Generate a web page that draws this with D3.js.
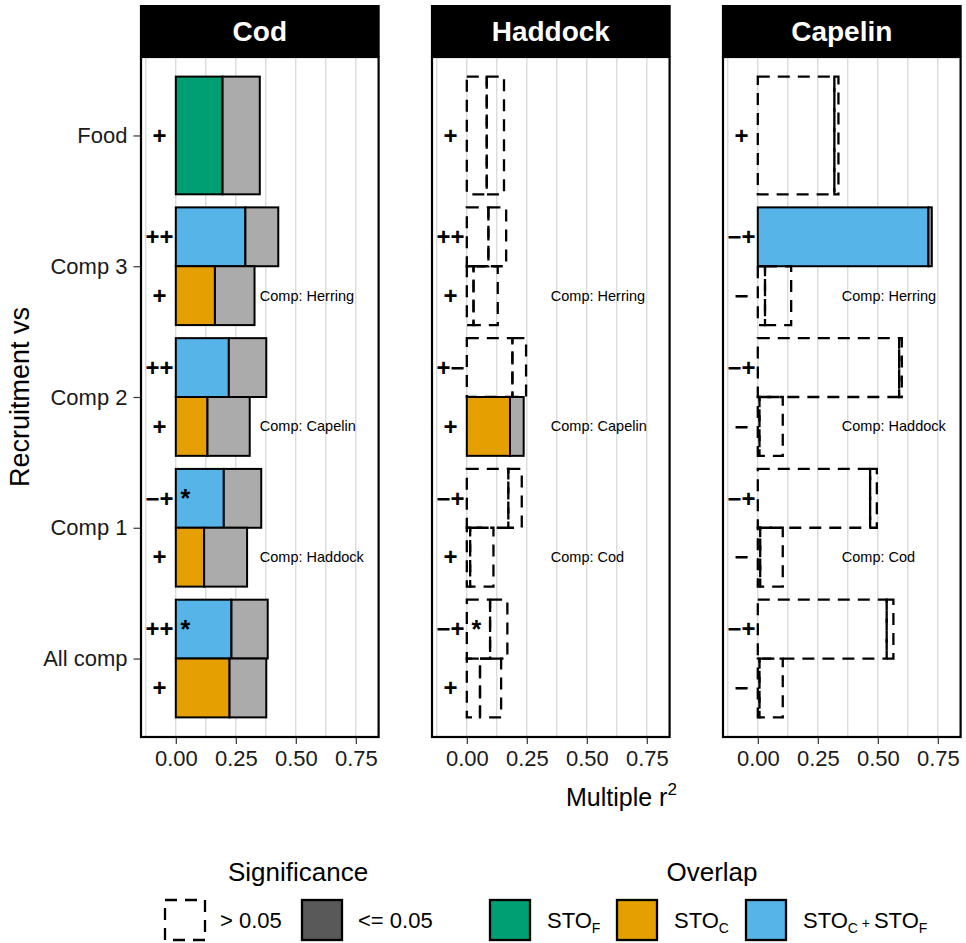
<!DOCTYPE html>
<html>
<head>
<meta charset="utf-8">
<script src="https://cdn.jsdelivr.net/npm/d3@7"></script>
<style>
  body { margin: 0; background: #fff; }
  svg { font-family: "Liberation Sans", Arial, sans-serif; }
</style>
</head>
<body>
<svg id="chart" width="966" height="943"></svg>
<script>
// facets, categories and ticks
var species = ["Cod", "Haddock", "Capelin"];
var categories = ["Food", "Comp 3", "Comp 2", "Comp 1", "All comp"];
var xTicks = [0, 0.25, 0.5, 0.75];
var gridTicks = [-0.125, 0, 0.125, 0.25, 0.375, 0.5, 0.625, 0.75];

// one row per bar: category, slot in the dodge, overlap group
var rowCategory = ["Food", "Comp 3", "Comp 3", "Comp 2", "Comp 2", "Comp 1", "Comp 1", "All comp", "All comp"];
var rowSlot = ["full", "top", "bottom", "top", "bottom", "top", "bottom", "top", "bottom"];
var rowOverlap = ["STO_F", "STO_C+F", "STO_C", "STO_C+F", "STO_C", "STO_C+F", "STO_C", "STO_C+F", "STO_C"];

// Cod
var codOverlapR2 = [0.195, 0.29, 0.163, 0.221, 0.132, 0.2, 0.118, 0.232, 0.224];
var codTotalR2 = [0.35, 0.427, 0.328, 0.377, 0.308, 0.356, 0.297, 0.383, 0.377];
var codSignif = [1, 1, 1, 1, 1, 1, 1, 1, 1];
var codSigns = ["+", "++", "+", "++", "+", "\u2212+", "+", "++", "+"];
var codStars = [0, 0, 0, 0, 0, 1, 0, 1, 0];
var codComps = ["Comp: Herring", "Comp: Capelin", "Comp: Haddock"];

// Haddock
var haddockOverlapR2 = [0.083, 0.09, 0.028, 0.19, 0.18, 0.173, 0.014, 0.097, 0.055];
var haddockTotalR2 = [0.155, 0.164, 0.129, 0.247, 0.237, 0.229, 0.111, 0.169, 0.143];
var haddockSignif = [0, 0, 0, 0, 1, 0, 0, 0, 0];
var haddockSigns = ["+", "++", "+", "+\u2212", "+", "\u2212+", "+", "\u2212+", "+"];
var haddockStars = [0, 0, 0, 0, 0, 0, 0, 1, 0];
var haddockComps = ["Comp: Herring", "Comp: Capelin", "Comp: Cod"];

// Capelin
var capelinOverlapR2 = [0.319, 0.711, 0.03, 0.589, 0.007, 0.468, 0.01, 0.537, 0.007];
var capelinTotalR2 = [0.336, 0.725, 0.139, 0.6, 0.104, 0.496, 0.104, 0.565, 0.104];
var capelinSignif = [0, 1, 0, 0, 0, 0, 0, 0, 0];
var capelinSigns = ["+", "\u2212+", "\u2212", "\u2212+", "\u2212", "\u2212+", "\u2212", "\u2212+", "\u2212"];
var capelinStars = [0, 0, 0, 0, 0, 0, 0, 0, 0];
var capelinComps = ["Comp: Herring", "Comp: Haddock", "Comp: Cod"];

var compCategories = ["Comp 3", "Comp 2", "Comp 1"];

var overlapColors = { "STO_F": "#009E73", "STO_C": "#E69F00", "STO_C+F": "#56B4E9" };
var restColor = "#ababab";

var panels = [
  { name: "Cod", overlap: codOverlapR2, total: codTotalR2, signif: codSignif, signs: codSigns, stars: codStars, comps: codComps },
  { name: "Haddock", overlap: haddockOverlapR2, total: haddockTotalR2, signif: haddockSignif, signs: haddockSigns, stars: haddockStars, comps: haddockComps },
  { name: "Capelin", overlap: capelinOverlapR2, total: capelinTotalR2, signif: capelinSignif, signs: capelinSigns, stars: capelinStars, comps: capelinComps }
];

var svg = d3.select("#chart");
var panelLefts = [141, 432, 723];
var panelW = 237.6;
var panelTop = 57, panelBottom = 737, stripTop = 5;
var dash = "12,8";

var y = d3.scalePoint().domain(categories).range([panelTop, panelBottom]).padding(0.6);
var step = y.step();

panels.forEach(function(p, pi) {
  var left = panelLefts[pi];
  var x = d3.scaleLinear().domain([-0.145, 0.845]).range([left, left + panelW]);
  var g = svg.append("g");

  g.append("rect").attr("x", left).attr("y", panelTop).attr("width", panelW)
    .attr("height", panelBottom - panelTop).attr("fill", "#fff");

  // vertical grid
  g.selectAll(".grid").data(gridTicks).enter().append("line")
    .attr("x1", function(d) { return x(d); }).attr("x2", function(d) { return x(d); })
    .attr("y1", panelTop).attr("y2", panelBottom)
    .attr("stroke", "#d0d0d0").attr("stroke-width", 1.1);

  // bars: overlap segment then the rest
  var rows = rowCategory.map(function(c, i) {
    var c0 = y(c);
    var y0, y1;
    if (rowSlot[i] === "full") { y0 = c0 - 0.45 * step; y1 = c0 + 0.45 * step; }
    else if (rowSlot[i] === "top") { y0 = c0 - 0.45 * step; y1 = c0; }
    else { y0 = c0; y1 = c0 + 0.45 * step; }
    return { i: i, y0: y0, y1: y1, ov: p.overlap[i], tot: p.total[i], sig: p.signif[i],
             group: rowOverlap[i], sign: p.signs[i], star: p.stars[i] };
  });

  rows.forEach(function(r) {
    var segs = [
      { a: 0, b: r.ov, fill: overlapColors[r.group] },
      { a: r.ov, b: r.tot, fill: restColor }
    ];
    segs.forEach(function(s) {
      g.append("rect")
        .attr("x", x(s.a)).attr("y", r.y0)
        .attr("width", x(s.b) - x(s.a)).attr("height", r.y1 - r.y0)
        .attr("fill", r.sig ? s.fill : "none")
        .attr("stroke", "#000").attr("stroke-width", r.sig ? 2 : 2.3)
        .attr("stroke-dasharray", r.sig ? null : dash);
    });
  });

  // sign text and stars
  rows.forEach(function(r) {
    var cy = (r.y0 + r.y1) / 2;
    g.append("text").attr("x", x(-0.068)).attr("y", cy).attr("dy", "0.34em")
      .attr("text-anchor", "middle").attr("font-size", 24).attr("font-weight", "bold").text(r.sign);
    if (r.star) {
      g.append("text").attr("x", x(0.04)).attr("y", cy).attr("dy", "0.36em")
        .attr("text-anchor", "middle").attr("font-size", 25).attr("font-weight", "bold").text("*");
    }
  });

  // comparison labels at the lower bar
  compCategories.forEach(function(c, k) {
    g.append("text").attr("x", x(0.35)).attr("y", y(c) + 0.225 * step).attr("dy", "0.35em")
      .attr("font-size", 14.5).text(p.comps[k]);
  });

  // panel border
  g.append("rect").attr("x", left).attr("y", panelTop).attr("width", panelW)
    .attr("height", panelBottom - panelTop).attr("fill", "none")
    .attr("stroke", "#000").attr("stroke-width", 2.2);

  // strip
  g.append("rect").attr("x", left - 1.1).attr("y", stripTop).attr("width", panelW + 2.2)
    .attr("height", panelTop - stripTop).attr("fill", "#000");
  g.append("text").attr("x", left + panelW / 2).attr("y", 41)
    .attr("text-anchor", "middle").attr("font-size", 28).attr("font-weight", "bold")
    .attr("fill", "#fff").text(p.name);

  // x axis
  var xAxis = d3.axisBottom(x).tickValues(xTicks).tickFormat(d3.format(".2f"))
    .tickSize(6).tickPadding(6);
  var ax = g.append("g").attr("transform", "translate(0," + (panelBottom + 1) + ")").call(xAxis);
  ax.select(".domain").remove();
  ax.selectAll("line").attr("stroke", "#333").attr("stroke-width", 1.2);
  ax.selectAll("text").attr("font-size", 22).attr("fill", "#1a1a1a")
    .attr("font-family", "Liberation Sans, Arial, sans-serif");

  // y axis only on first panel
  if (pi === 0) {
    var yAxis = d3.axisLeft(y).tickSize(7).tickPadding(6);
    var ay = g.append("g").attr("transform", "translate(" + (left - 0.5) + ",0)").call(yAxis);
    ay.select(".domain").remove();
    ay.selectAll("line").attr("stroke", "#333").attr("stroke-width", 1.2);
    ay.selectAll("text").attr("font-size", 22).attr("fill", "#1a1a1a")
      .attr("font-family", "Liberation Sans, Arial, sans-serif");
  }
});

// axis titles
svg.append("text").attr("transform", "translate(29,397) rotate(-90)")
  .attr("text-anchor", "middle").attr("font-size", 27).text("Recruitment vs");

var xt = svg.append("text").attr("x", 566).attr("y", 806).attr("font-size", 25);
xt.append("tspan").text("Multiple r");
xt.append("tspan").attr("font-size", 17).attr("dy", -11).text("2");

// legends
function sub(t, main, s) {
  t.append("tspan").text(main);
  t.append("tspan").attr("font-size", 14).attr("dy", 5).text(s);
}

var leg = svg.append("g");
leg.append("text").attr("x", 298).attr("y", 881).attr("text-anchor", "middle")
  .attr("font-size", 26).text("Significance");
leg.append("text").attr("x", 712).attr("y", 881).attr("text-anchor", "middle")
  .attr("font-size", 26).text("Overlap");

var keyY = 900, keyS = 40;
var sigKeys = [
  { x: 165, fill: "none", dash: dash, label: "> 0.05", lx: 220 },
  { x: 302, fill: "#595959", dash: null, label: "<= 0.05", lx: 358 }
];
sigKeys.forEach(function(k) {
  leg.append("rect").attr("x", k.x).attr("y", keyY).attr("width", keyS).attr("height", keyS)
    .attr("fill", k.fill).attr("stroke", "#000").attr("stroke-width", 2.3)
    .attr("stroke-dasharray", k.dash);
  leg.append("text").attr("x", k.lx).attr("y", keyY + keyS / 2).attr("dy", "0.36em")
    .attr("font-size", 22).text(k.label);
});

var ovKeys = [
  { x: 490, group: "STO_F", lx: 547 },
  { x: 617, group: "STO_C", lx: 674 },
  { x: 746, group: "STO_C+F", lx: 803 }
];
ovKeys.forEach(function(k) {
  leg.append("rect").attr("x", k.x).attr("y", keyY).attr("width", keyS).attr("height", keyS)
    .attr("fill", overlapColors[k.group]).attr("stroke", "#000").attr("stroke-width", 2.3);
  var t = leg.append("text").attr("x", k.lx).attr("y", keyY + keyS / 2 + 7.5).attr("font-size", 22);
  if (k.group === "STO_F") sub(t, "STO", "F");
  else if (k.group === "STO_C") sub(t, "STO", "C");
  else {
    t.append("tspan").text("STO");
    t.append("tspan").attr("font-size", 14).attr("dy", 5).text("C");
    t.append("tspan").attr("font-size", 14).attr("dy", -5).text(" + ");
    t.append("tspan").text("STO");
    t.append("tspan").attr("font-size", 14).attr("dy", 5).text("F");
  }
});
</script>
</body>
</html>
